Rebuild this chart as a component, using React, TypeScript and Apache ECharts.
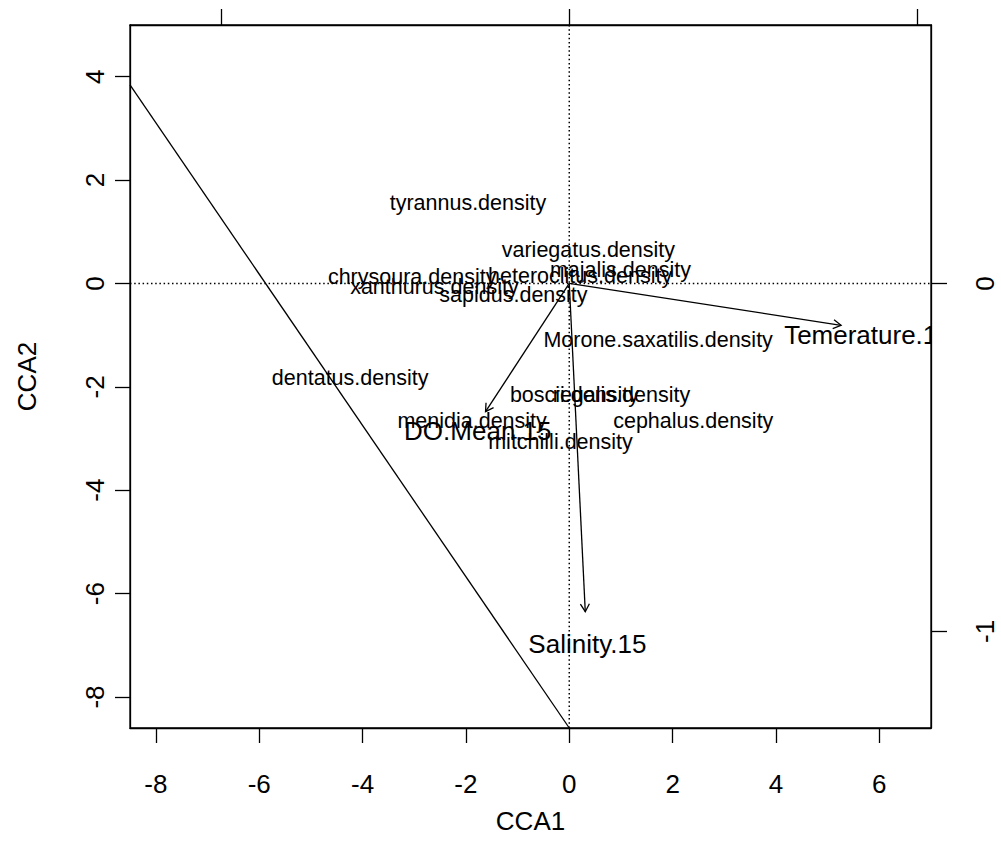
import React, { useEffect, useRef } from "react";
import * as echarts from "echarts";

// Species scores (CCA1, CCA2)
const speciesNames = [
  "tyrannus.density",
  "variegatus.density",
  "majalis.density",
  "heteroclitus.density",
  "chrysoura.density",
  "xanthurus.density",
  "sapidus.density",
  "Morone.saxatilis.density",
  "dentatus.density",
  "boscii.density",
  "regalis.density",
  "cephalus.density",
  "menidia.density",
  "mitchilli.density",
];
const speciesX = [-1.96, 0.37, 0.99, 0.21, -3.04, -2.61, -1.08, 1.72, -4.24, 0.1, 1.01, 2.4, -1.88, -0.17];
const speciesY = [1.56, 0.65, 0.26, 0.15, 0.13, -0.07, -0.22, -1.09, -1.83, -2.15, -2.15, -2.66, -2.66, -3.07];

// Environmental biplot arrows (already multiplied by the biplot scale)
const envNames = ["Temerature.15", "DO.Mean.15", "Salinity.15"];
const envArrowX = [5.26, -1.62, 0.31];
const envArrowY = [-0.81, -2.48, -6.35];
const envLabelX = [5.78, -1.77, 0.35];
const envLabelY = [-0.99, -2.86, -6.98];

// Scale between the biplot axes (top/right) and the site axes (bottom/left)
const arrowMul = 6.73;

const xTicks = [-8, -6, -4, -2, 0, 2, 4, 6];
const yTicks = [-8, -6, -4, -2, 0, 2, 4];
const biplotTicksX = [-1, 0, 1];
const biplotTicksY = [-1, 0];
const xRange = [-8.5, 7.0];
const yRange = [-8.6, 5.0];

// Straight reference line drawn across the ordination
const fitLineX = [-8.5, 0];
const fitLineY = [3.84, -8.6];

const FONT = "'Liberation Sans', Arial, Helvetica, sans-serif";
const BLACK = "#000";

export default function App() {
  const ref = useRef<HTMLDivElement>(null);

  useEffect(() => {
    if (!ref.current) return;
    const chart = echarts.init(ref.current, undefined, { renderer: "svg" });

    const axisLine = { show: true, onZero: false, lineStyle: { color: BLACK, width: 1.3 } };
    const tickStyle = { color: BLACK, width: 1.3 };
    const dotted = { color: BLACK, width: 1.5, type: [1.5, 2.7] as number[] };

    const option: any = {
      animation: false,
      backgroundColor: "#fff",
      grid: {
        left: 130,
        top: 25,
        width: 801,
        height: 703,
        show: true,
        borderColor: BLACK,
        borderWidth: 1.3,
        containLabel: false,
      },
      xAxis: [
        {
          type: "value",
          position: "bottom",
          min: xRange[0],
          max: xRange[1],
          axisLine,
          axisTick: { show: true, length: 15, customValues: xTicks, lineStyle: tickStyle },
          axisLabel: {
            customValues: xTicks,
            fontSize: 26,
            color: BLACK,
            fontFamily: FONT,
            margin: 43,
          },
          splitLine: { show: false },
          name: "CCA1",
          nameLocation: "middle",
          nameGap: 80,
          nameTextStyle: { fontSize: 26, color: BLACK, fontFamily: FONT },
        },
        {
          type: "value",
          position: "top",
          min: xRange[0] / arrowMul,
          max: xRange[1] / arrowMul,
          axisLine,
          axisTick: { show: true, length: 16, customValues: biplotTicksX, lineStyle: tickStyle },
          axisLabel: { show: false },
          splitLine: { show: false },
        },
      ],
      yAxis: [
        {
          type: "value",
          position: "left",
          min: yRange[0],
          max: yRange[1],
          axisLine,
          axisTick: { show: true, length: 15, customValues: yTicks, lineStyle: tickStyle },
          axisLabel: {
            customValues: yTicks,
            rotate: 90,
            fontSize: 26,
            color: BLACK,
            fontFamily: FONT,
            margin: 22,
          },
          splitLine: { show: false },
          name: "CCA2",
          nameLocation: "middle",
          nameRotate: 90,
          nameGap: 90,
          nameTextStyle: { fontSize: 26, color: BLACK, fontFamily: FONT },
        },
        {
          type: "value",
          position: "right",
          min: yRange[0] / arrowMul,
          max: yRange[1] / arrowMul,
          axisLine,
          axisTick: { show: true, length: 16, customValues: biplotTicksY, lineStyle: tickStyle },
          axisLabel: {
            customValues: biplotTicksY,
            rotate: 90,
            fontSize: 26,
            color: BLACK,
            fontFamily: FONT,
            margin: 41,
          },
          splitLine: { show: false },
        },
      ],
      series: [
        {
          name: "zero-h",
          type: "line",
          data: [
            [xRange[0], 0],
            [xRange[1], 0],
          ],
          symbol: "none",
          lineStyle: dotted,
          silent: true,
        },
        {
          name: "zero-v",
          type: "line",
          data: [
            [0, yRange[0]],
            [0, yRange[1]],
          ],
          symbol: "none",
          lineStyle: dotted,
          silent: true,
        },
        {
          name: "reference",
          type: "line",
          data: fitLineX.map((x, i) => [x, fitLineY[i]]),
          symbol: "none",
          lineStyle: { color: BLACK, width: 1.3 },
          silent: true,
        },
        {
          name: "arrows",
          type: "custom",
          clip: true,
          data: envArrowX.map((x, i) => [x, envArrowY[i]]),
          renderItem: (params: any, api: any) => {
            const o = api.coord([0, 0]);
            const t = api.coord([api.value(0), api.value(1)]);
            const ang = Math.atan2(t[1] - o[1], t[0] - o[0]);
            const L = 9;
            const a = Math.PI / 6;
            const p1 = [t[0] - L * Math.cos(ang - a), t[1] - L * Math.sin(ang - a)];
            const p2 = [t[0] - L * Math.cos(ang + a), t[1] - L * Math.sin(ang + a)];
            return {
              type: "group",
              children: [
                {
                  type: "line",
                  shape: { x1: o[0], y1: o[1], x2: t[0], y2: t[1] },
                  style: { stroke: BLACK, lineWidth: 1.3 },
                },
                {
                  type: "polyline",
                  shape: { points: [p1, t, p2] },
                  style: { stroke: BLACK, fill: null, lineWidth: 1.3 },
                },
              ],
            };
          },
        },
        {
          name: "species",
          type: "custom",
          clip: true,
          data: speciesX.map((x, i) => [x, speciesY[i]]),
          renderItem: (params: any, api: any) => {
            const p = api.coord([api.value(0), api.value(1)]);
            return {
              type: "text",
              x: p[0],
              y: p[1],
              style: {
                text: speciesNames[params.dataIndex],
                fontSize: 21.5,
                fontFamily: FONT,
                fill: BLACK,
                align: "center",
                verticalAlign: "middle",
              },
            };
          },
        },
        {
          name: "env-labels",
          type: "custom",
          clip: true,
          data: envLabelX.map((x, i) => [x, envLabelY[i]]),
          renderItem: (params: any, api: any) => {
            const p = api.coord([api.value(0), api.value(1)]);
            return {
              type: "text",
              x: p[0],
              y: p[1],
              style: {
                text: envNames[params.dataIndex],
                fontSize: 26,
                fontFamily: FONT,
                fill: BLACK,
                align: "center",
                verticalAlign: "middle",
              },
            };
          },
        },
      ],
    };

    chart.setOption(option);
    return () => chart.dispose();
  }, []);

  return (
    <div
      ref={ref}
      style={{ position: "fixed", left: 0, top: 0, width: 1001, height: 863, background: "#fff" }}
    />
  );
}
